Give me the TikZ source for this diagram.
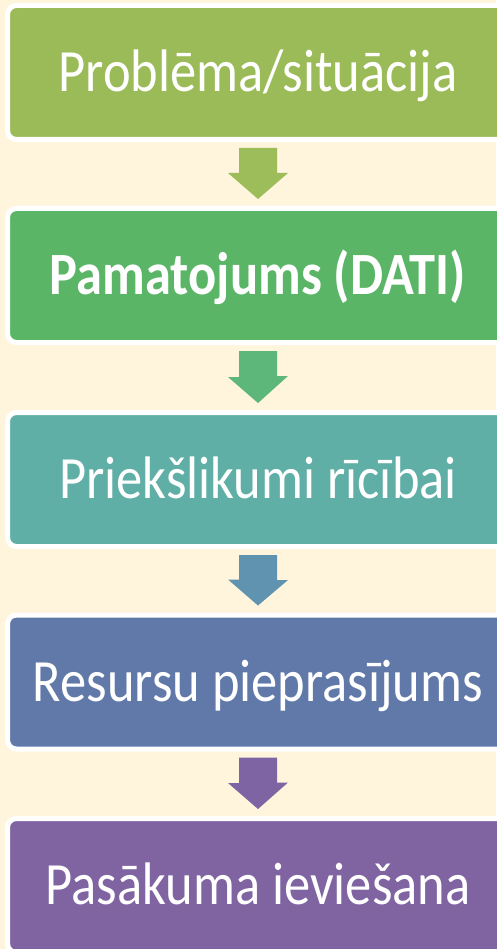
\documentclass[tikz,border=0pt]{standalone}
\usepackage{fontspec}
\usepackage{graphicx}
\setmainfont{Carlito}
\usetikzlibrary{calc}
\definecolor{bgc}{HTML}{FEF5DC}
\definecolor{c1}{HTML}{9BBB59}
\definecolor{c2}{HTML}{5BB567}
\definecolor{c3}{HTML}{5FAFA6}
\definecolor{c4}{HTML}{6079A9}
\definecolor{c5}{HTML}{8064A2}
\definecolor{a1}{HTML}{9DBC5A}
\definecolor{a2}{HTML}{5DB67A}
\definecolor{a3}{HTML}{5F93B0}
\definecolor{a4}{HTML}{7E64A2}
\tikzset{
  stagebox/.style={draw=white, line width=5pt, rounded corners=9pt,
    minimum width=501pt, minimum height=134pt, inner sep=0pt,
    text=white, text height=38.6pt, text depth=0pt,
    font=\fontsize{60}{72}\selectfont},
}
\newcommand{\sq}[1]{\scalebox{0.875}[1]{#1}}
\newcommand{\downarrowshape}[3]{%
  \coordinate (#1s) at ($(#2.south)+(0,6)$);
  \coordinate (#1t) at ($(#3.north)+(0,-7)$);
  \fill[#1] ($(#1s)+(-19,0)$) -- ++(38,0) -- ++(0,25) -- ++(11,0) -- (#1t)
    -- ++(-30,-26) -- ++(11,0) -- cycle;
}
\begin{document}
\begin{tikzpicture}[x=1pt,y=-1pt]
\fill[bgc] (0,0) rectangle (496,949);
\useasboundingbox (0,0) rectangle (496,949);
\node[stagebox, fill=c1] (b1) at (258,72.5) {\sq{Problēma/situācija}};
\node[stagebox, fill=c2, font=\fontsize{60}{72}\selectfont\bfseries] (b2) at (258,275.5) {\sq{Pamatojums (DATI)}};
\node[stagebox, fill=c3] (b3) at (258,479.5) {\sq{Priekšlikumi rīcībai}};
\node[stagebox, fill=c4] (b4) at (258,682) {\sq{Resursu pieprasījums}};
\node[stagebox, fill=c5] (b5) at (258,885.5) {\sq{Pasākuma ieviešana}};
\downarrowshape{a1}{b1}{b2}
\downarrowshape{a2}{b2}{b3}
\downarrowshape{a3}{b3}{b4}
\downarrowshape{a4}{b4}{b5}
\end{tikzpicture}
\end{document}
